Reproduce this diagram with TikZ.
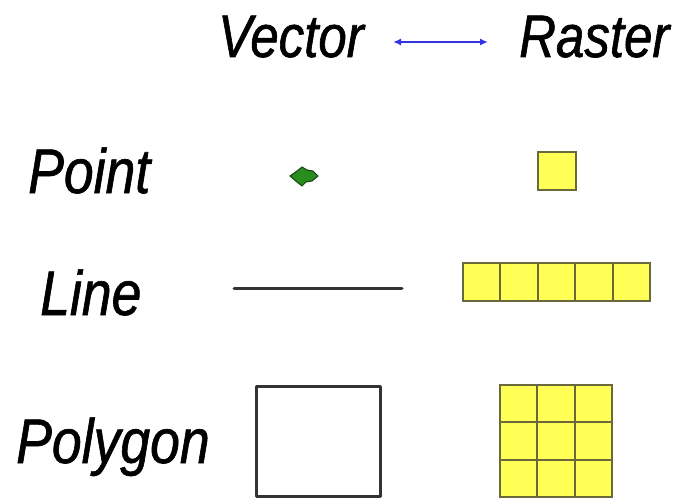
\documentclass[tikz,border=0pt]{standalone}
\usepackage{fontspec}
\newfontfamily\labfont{Liberation Sans}[FakeStretch=0.85,FakeBold=1]
\usetikzlibrary{arrows.meta}
\definecolor{cellfill}{RGB}{255,255,85}
\definecolor{celledge}{RGB}{105,105,60}
\definecolor{vecgreen}{RGB}{40,140,30}
\definecolor{vecdark}{RGB}{20,70,15}
\definecolor{arrowblue}{RGB}{50,50,230}
\begin{document}
\begin{tikzpicture}[x=1pt,y=-1pt,
  lab/.style={inner sep=0pt,anchor=base west,font=\labfont\itshape\fontsize{63}{63}\selectfont},
  head/.style={lab,font=\labfont\itshape\fontsize{60}{60}\selectfont},
  cell/.style={fill=cellfill,draw=celledge,line width=2pt},
  vline/.style={draw=black!80,line width=3pt,line cap=round,line join=round}]
\useasboundingbox (0,0) rectangle (679,500);
% column headings and the two-way arrow between them
\node[head] (vec) at (218,57) {Vector};
\node[head] (ras) at (519,57) {Raster};
\coordinate (a1) at (393,42);
\coordinate (a2) at (488,42);
\draw[arrowblue,line width=2pt,{Latex[length=8pt,width=7pt]}-{Latex[length=8pt,width=7pt]}] (a1) -- (a2);
% row labels
\node[lab] (pt) at (28,193) {Point};
\node[lab] (ln) at (40,315) {Line};
\node[lab] (pg) at (16,463) {Polygon};
% vector point
\filldraw[fill=vecgreen,draw=vecdark,line width=1pt]
  (290,176) -- (297,171) -- (302,167) -- (307,170) -- (313,171) -- (318,176)
  -- (312,181) -- (306,182) -- (302,186) -- (297,182) -- cycle;
% raster point
\draw[cell] (538,152) rectangle (576,190);
% vector line
\draw[vline] (234,288) -- (402,288);
% raster line: five cells
\foreach \i in {0,...,4}
  \draw[cell] ({463+37.4*\i},263) rectangle ++(37.4,38);
% vector polygon
\draw[vline] (256,386) rectangle (380,496);
% raster polygon: 3x3 cells
\foreach \i in {0,1,2}
  \foreach \j in {0,1,2}
    \draw[cell] ({500+37.3*\i},{385+37.3*\j}) rectangle ++(37.3,37.3);
\end{tikzpicture}
\end{document}
